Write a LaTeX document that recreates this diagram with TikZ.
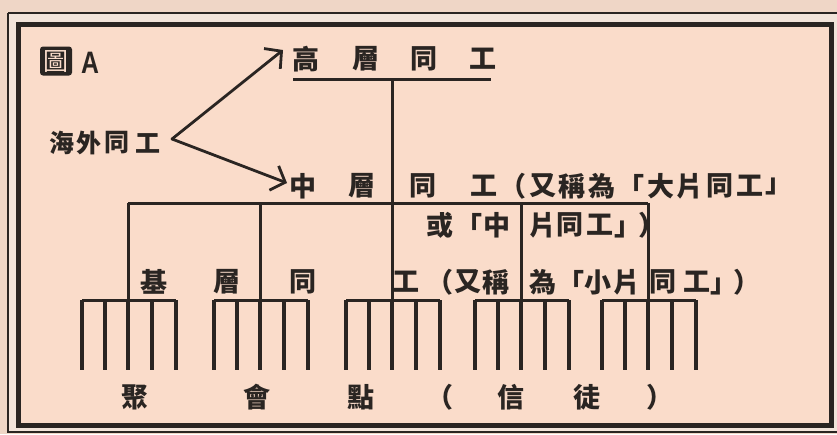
\documentclass[tikz,border=0pt]{standalone}
\usepackage{fontspec}
\newfontfamily\cjk{Noto Sans CJK TC}
\newfontfamily\lsans{Liberation Sans}
\usetikzlibrary{arrows.meta}
\definecolor{paper}{HTML}{FADCCA}
\definecolor{gapc}{HTML}{F2E4DA}
\definecolor{outc}{HTML}{EFD6C6}
\definecolor{ink}{HTML}{2A2522}
\tikzset{
  ch/.style={inner sep=0pt,font=\cjk\bfseries\fontsize{27}{27}\selectfont,text=ink},
  chs/.style={inner sep=0pt,font=\cjk\bfseries\fontsize{25}{25}\selectfont,text=ink},
  ln/.style={draw=ink,line width=3pt},
  leaf/.style={draw=ink,line width=3.2pt},
  arr/.style={draw=ink,line width=2.8pt,-{Straight Barb[length=12pt,width=26pt,line width=2.8pt]}},
}
\begin{document}
\begin{tikzpicture}[x=1pt,y=-1pt]
\useasboundingbox (0,0) rectangle (837,434);
\fill[outc] (0,0) rectangle (837,434);
\fill[gapc] (8,13) rectangle (845,432);
\draw[ink,line width=1.4pt] (8,13) -- (845,13);
\draw[ink,line width=1.4pt] (8,13) -- (8,432) -- (845,432);
\draw[ink,line width=5pt,fill=paper] (18,24) rectangle (831,425);

% title
\node[fill=ink,rounded corners=3pt,minimum width=32pt,minimum height=29pt,inner sep=0pt,text=paper,font=\cjk\fontsize{25}{25}\selectfont] (fig) at (56,61) {圖};
\node[inner sep=0pt,font=\lsans\bfseries\fontsize{31}{31}\selectfont,text=ink] (figA) at (90,63) {\scalebox{0.8}[1]{A}};

% overseas
\foreach \x/\c [count=\i] in {62/海,89/外,117/同,148/工}
  \node[chs] (o\i) at (\x,143) {\c};
\coordinate (os) at (172,139);

% top level
\foreach \x/\c [count=\i] in {306/高,366/層,424/同,483/工}
  \node[ch] (t\i) at (\x,59) {\c};
\coordinate (ul) at (293,79);
\coordinate (ur) at (491,79);
\coordinate (tj) at (392,79);
\draw[ln] (ul) -- (ur);

% middle level text
\foreach \x/\c [count=\i] in {303/中,362/層,423/同,484/工,513/（,543/又,572/稱,602/為,631/「,661/大,690/片,720/同,750/工,779/」}
  \node[ch] (m\i) at (\x,186) {\c};
\foreach \x/\c [count=\i] in {440/或,469/「,497/中,543/片,570/同,600/工}
  \node[ch] (n\i) at (\x,225) {\c};
\node[ch,anchor=west] (n7) at (614.5,225) {」\kern-3pt）};

% arrows
\coordinate (ta) at (283,50);
\coordinate (ma) at (287,183);
\draw[arr,line cap=round] (os) -- (ta);
\draw[arr,line cap=round] (os) -- (ma);

% middle bar
\coordinate (ml) at (128,203);
\coordinate (mr) at (648,203);
\draw[ln] (ml) -- (mr);

% base text
\foreach \x/\c [count=\i] in {154/基,227/層,303/同,406/工,440/（,468/又,496/稱,543/為,571/「,598/小,627/片,663/同,697/工}
  \node[ch] (b\i) at (\x,282) {\c};
\node[ch,anchor=west] (b14) at (710.5,282) {」\kern-4pt）};

% groups
\foreach \cx [count=\g] in {128,260,392,521,648}{
  \coordinate (g\g) at (\cx,300);
  \coordinate (gl\g) at (\cx-46,300);
  \coordinate (gr\g) at (\cx+48,300);
  \draw[ln] (gl\g) -- (gr\g);
  \foreach \dx [count=\k] in {-46,-23,0,24,48}{
    \coordinate (lt\g\k) at (\cx+\dx,300);
    \coordinate (lb\g\k) at (\cx+\dx,370);
    \draw[leaf] (lt\g\k) -- (lb\g\k);
  }
}
% connectors middle -> groups
\coordinate (mj1) at (128,203);
\coordinate (mj2) at (260,203);
\coordinate (mj4) at (521,203);
\coordinate (mj5) at (648,203);
\draw[ln] (tj) -- (g3);
\foreach \g in {1,2,4,5}
  \draw[ln] (mj\g) -- (g\g);

% bottom text
\foreach \x/\c [count=\i] in {135/聚,257/會,361/點,440/（,511/信,587/徒,660/）}
  \node[ch] (e\i) at (\x,397) {\c};
\end{tikzpicture}
\end{document}
